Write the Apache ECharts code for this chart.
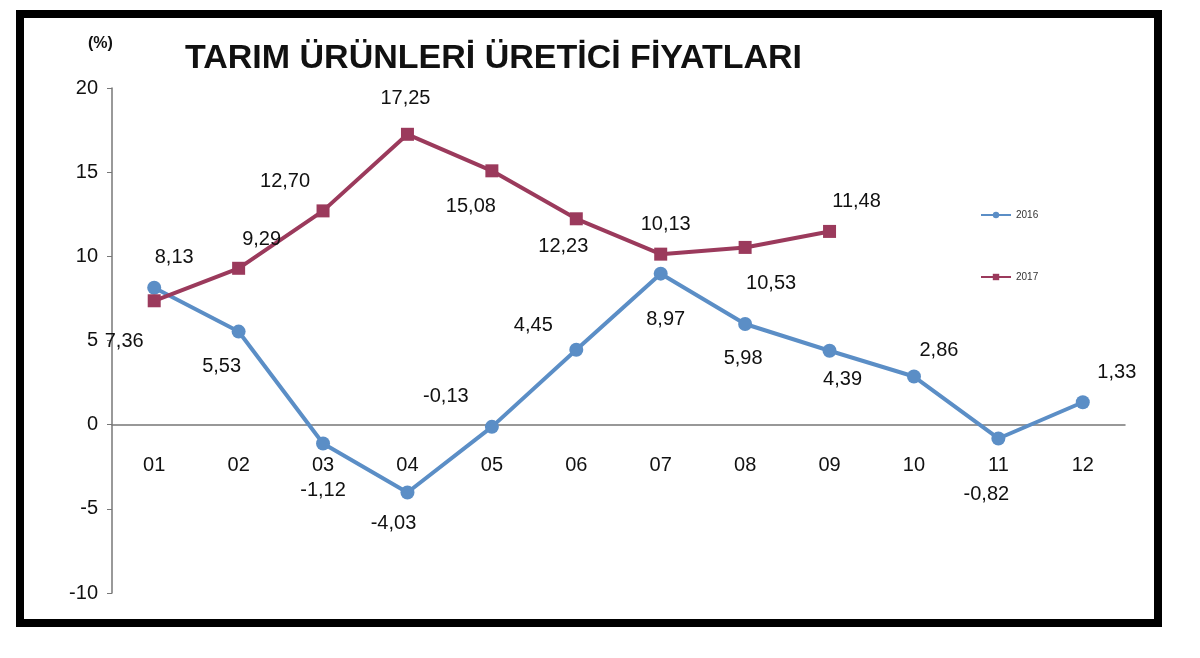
<!DOCTYPE html>
<html><head><meta charset="utf-8">
<script src="https://cdn.jsdelivr.net/npm/echarts@6/dist/echarts.min.js"></script>
<style>html,body{margin:0;padding:0;background:#fff}#c{width:1200px;height:658px}</style>
</head><body><div id="c"></div>
<script>
const categories = ['01','02','03','04','05','06','07','08','09','10','11','12'];
const values2016 = [8.13,5.53,-1.12,-4.03,-0.13,4.45,8.97,5.98,4.39,2.86,-0.82,1.33];
const values2017 = [7.36,9.29,12.70,17.25,15.08,12.23,10.13,10.53,11.48];
const yTicks = [-10,-5,0,5,10,15,20];
const off2016 = [[20,-30],[-17,35],[0,47],[-14,31],[-46,-30],[-43,-24],[5,46],[-2,34],[13,29],[25,-26],[-12,56],[34,-30]];
const off2017 = [[-30,41],[23,-29],[-38,-29],[-2,-36],[-21,36],[-13,28],[5,-30],[26,36],[27,-30]];
const fmt = v => v.toFixed(2).replace('.', ',');
const mk = (vals, offs) => vals.map((v,i)=>({value:v,label:{show:true,position:'inside',offset:offs[i],formatter:fmt(v),color:'#111',fontSize:20,fontFamily:'Liberation Sans'}}));
const chart = echarts.init(document.getElementById('c'));
chart.setOption({
  animation:false,
  grid:{left:112,right:75,top:88,bottom:65},
  graphic:[
    {type:'rect',shape:{x:20,y:14,width:1138,height:609},style:{fill:'none',stroke:'#000',lineWidth:8}},
    {type:'text',left:185,top:42,style:{text:'TARIM ÜRÜNLERİ ÜRETİCİ FİYATLARI',font:'bold 34px "Liberation Sans"',fill:'#111'}},
    {type:'text',left:88,top:36,style:{text:'(%)',font:'bold 16px "Liberation Sans"',fill:'#111'}}
  ],
  legend:{orient:'vertical',left:975,top:205,itemGap:52,itemWidth:30,itemHeight:8,textStyle:{fontSize:10,color:'#333'},data:['2016','2017']},
  xAxis:{type:'category',data:categories,boundaryGap:true,
    axisLine:{onZero:true,lineStyle:{color:'#777',width:1.5}},axisTick:{show:false},
    axisLabel:{margin:-138,fontSize:20,color:'#111',fontFamily:'Liberation Sans'}},
  yAxis:{type:'value',min:-10,max:20,interval:5,
    axisLine:{show:true,lineStyle:{color:'#777',width:1.5}},axisTick:{show:true,length:5,lineStyle:{color:'#777'}},
    splitLine:{show:false},
    axisLabel:{margin:14,fontSize:20,color:'#111',fontFamily:'Liberation Sans',formatter:v=>yTicks.includes(v)?String(v):''}},
  series:[
    {name:'2016',type:'line',data:mk(values2016,off2016),symbol:'circle',symbolSize:14,
      lineStyle:{color:'#5b8ec6',width:4},itemStyle:{color:'#5b8ec6'}},
    {name:'2017',type:'line',data:mk(values2017,off2017),symbol:'rect',symbolSize:13,
      lineStyle:{color:'#9b3a5c',width:4},itemStyle:{color:'#9b3a5c'}}
  ]
});
</script></body></html>
